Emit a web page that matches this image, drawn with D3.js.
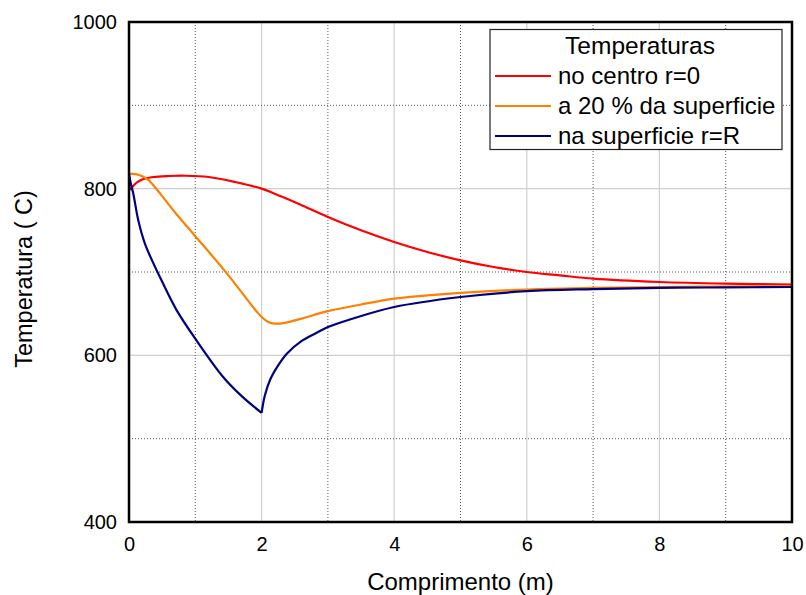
<!DOCTYPE html>
<html>
<head>
<meta charset="utf-8">
<script src="https://cdn.jsdelivr.net/npm/d3@7"></script>
<style>
  html, body { margin: 0; padding: 0; background: #fff; }
  svg { display: block; font-family: "Liberation Sans", Arial, Helvetica, sans-serif; }
</style>
</head>
<body>
<svg id="chart" width="806" height="595"></svg>
<script>
// Temperature profiles along the length of the piece
const xTicks = [0, 2, 4, 6, 8, 10];
const yTicks = [400, 600, 800, 1000];
const xMinorGrid = [1, 3, 5, 7, 9];
const yMinorGrid = [500, 700, 900];

const seriesNames = ["no centro r=0", "a 20 % da superficie", "na superficie r=R"];
const seriesColors = ["#ff0000", "#ff8000", "#000080"];

// centre (r = 0)
const centroX = [0, 0.05, 0.11, 0.2, 0.37, 0.6, 0.85, 1.2, 1.6, 2.0, 2.3, 2.58, 3.0, 3.5, 4.0, 4.5, 5.0, 5.5, 6.0, 6.5, 7.0, 8.0, 9.0, 10];
const centroY = [798, 802, 807, 811, 814, 815.2, 815.5, 814, 808, 800, 790.5, 781, 766, 750, 736, 724, 714, 706, 700, 696, 692, 688, 686, 685];

// 20 % from the surface
const vinteX = [0, 0.1, 0.2, 0.3, 0.47, 0.72, 1.0, 1.5, 1.9, 2.0, 2.1, 2.2, 2.35, 2.6, 3.0, 3.5, 4.0, 4.5, 5.0, 6.0, 7.0, 8.0, 9.0, 10];
const vinteY = [818, 817.5, 815, 810, 794, 769, 743, 696, 655, 646, 640, 638, 639, 644, 653, 661, 668, 672, 675, 679, 681, 682, 682.5, 683];

// surface (r = R): cooled section up to x = 2, then recovery
const supX1 = [0, 0.03, 0.065, 0.14, 0.24, 0.37, 0.49, 0.72, 1.0, 1.42, 1.7, 2.0];
const supY1 = [818, 805, 794, 762, 734, 710, 690, 654, 620, 574, 551, 531];
const supX2 = [2.0, 2.05, 2.13, 2.25, 2.38, 2.6, 2.83, 3.0, 3.33, 4.0, 5.0, 6.0, 7.0, 8.0, 9.0, 10];
const supY2 = [531, 552, 571, 588, 602, 617, 627, 634, 643, 658, 670, 677, 679.5, 681, 681.5, 682];

const svg = d3.select("#chart");
const plot = { left: 129, top: 22, right: 792, bottom: 522 };

const x = d3.scaleLinear().domain([0, 10]).range([plot.left, plot.right]);
const y = d3.scaleLinear().domain([400, 1000]).range([plot.bottom, plot.top]);

// grid: solid light lines at labelled ticks, dotted lines in between
const grid = svg.append("g");
grid.selectAll(".vmaj").data(xTicks.filter(v => v > 0 && v < 10)).join("line")
  .attr("x1", d => x(d)).attr("x2", d => x(d))
  .attr("y1", plot.top).attr("y2", plot.bottom)
  .attr("stroke", "#cfcfcf").attr("stroke-width", 1.2);
grid.selectAll(".hmaj").data(yTicks.filter(v => v > 400 && v < 1000)).join("line")
  .attr("x1", plot.left).attr("x2", plot.right)
  .attr("y1", d => y(d)).attr("y2", d => y(d))
  .attr("stroke", "#cfcfcf").attr("stroke-width", 1.2);
grid.selectAll(".vmin").data(xMinorGrid).join("line")
  .attr("x1", d => x(d)).attr("x2", d => x(d))
  .attr("y1", plot.top).attr("y2", plot.bottom)
  .attr("stroke", "#555").attr("stroke-width", 1).attr("stroke-dasharray", "1,2");
grid.selectAll(".hmin").data(yMinorGrid).join("line")
  .attr("x1", plot.left).attr("x2", plot.right)
  .attr("y1", d => y(d)).attr("y2", d => y(d))
  .attr("stroke", "#555").attr("stroke-width", 1).attr("stroke-dasharray", "1,2");

// curves
const line = d3.line().x(d => x(d[0])).y(d => y(d[1])).curve(d3.curveCatmullRom.alpha(0.5));
const zip = (xs, ys) => xs.map((v, i) => [v, ys[i]]);
const paths = [
  { pts: zip(centroX, centroY), color: seriesColors[0] },
  { pts: zip(vinteX, vinteY), color: seriesColors[1] },
  { pts: zip(supX1, supY1), color: seriesColors[2] },
  { pts: zip(supX2, supY2), color: seriesColors[2] }
];
svg.append("clipPath").attr("id", "plotclip").append("rect")
  .attr("x", plot.left).attr("y", plot.top)
  .attr("width", plot.right - plot.left).attr("height", plot.bottom - plot.top);
svg.append("g").attr("clip-path", "url(#plotclip)")
  .selectAll("path").data(paths).join("path")
  .attr("d", d => line(d.pts))
  .attr("fill", "none")
  .attr("stroke", d => d.color)
  .attr("stroke-width", 2.2)
  .attr("stroke-linejoin", "miter");

// axes
const xAxis = d3.axisBottom(x).tickValues(xTicks).tickSize(0).tickPadding(15).tickFormat(d3.format("d"));
const yAxis = d3.axisLeft(y).tickValues(yTicks).tickSize(0).tickPadding(12).tickFormat(d3.format("d"));
const gx = svg.append("g").attr("transform", `translate(0,${plot.bottom})`).call(xAxis);
const gy = svg.append("g").attr("transform", `translate(${plot.left},0)`).call(yAxis);
[gx, gy].forEach(g => {
  g.select(".domain").remove();
  g.selectAll("text").attr("font-size", 20).attr("fill", "#000")
    .attr("font-family", "Liberation Sans, Arial, sans-serif");
});

// frame
svg.append("rect")
  .attr("x", plot.left).attr("y", plot.top)
  .attr("width", plot.right - plot.left).attr("height", plot.bottom - plot.top)
  .attr("fill", "none").attr("stroke", "#000").attr("stroke-width", 2.5);

// axis titles
svg.append("text")
  .attr("x", (plot.left + plot.right) / 2).attr("y", 590)
  .attr("text-anchor", "middle").attr("font-size", 24)
  .text("Comprimento (m)");
svg.append("text")
  .attr("transform", `translate(32,${(plot.top + plot.bottom) / 2 + 7}) rotate(-90)`)
  .attr("text-anchor", "middle").attr("font-size", 23.5)
  .text("Temperatura ( C)");

// legend
const lg = svg.append("g");
lg.append("rect")
  .attr("x", 490).attr("y", 29.5).attr("width", 292).attr("height", 120)
  .attr("fill", "#fff").attr("stroke", "#222").attr("stroke-width", 1.2);
lg.append("text")
  .attr("x", 640).attr("y", 54).attr("text-anchor", "middle").attr("font-size", 24.5)
  .text("Temperaturas");
const rows = lg.selectAll(".row").data(seriesNames).join("g")
  .attr("transform", (d, i) => `translate(0,${76 + i * 30})`);
rows.append("line")
  .attr("x1", 495).attr("x2", 551).attr("y1", 0).attr("y2", 0)
  .attr("stroke", (d, i) => seriesColors[i]).attr("stroke-width", 2);
rows.append("text")
  .attr("x", 558).attr("y", 8).attr("font-size", 24)
  .text(d => d);
</script>
</body>
</html>
